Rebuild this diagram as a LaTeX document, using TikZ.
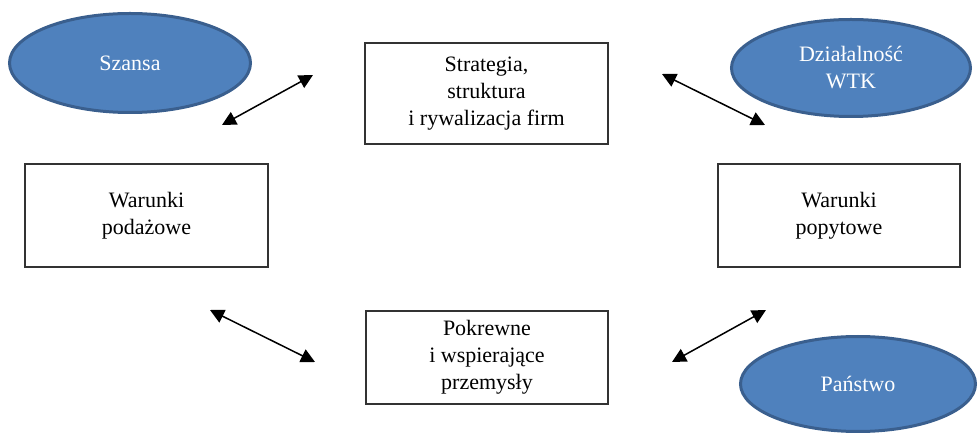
\documentclass[tikz,border=0pt]{standalone}
\usepackage{fontspec}
\setmainfont{Liberation Serif}
\usepackage{tikz}
\usetikzlibrary{arrows.meta, shapes.geometric}
\definecolor{ovalfill}{HTML}{4F81BD}
\definecolor{ovaldraw}{HTML}{3A5F8E}
\definecolor{boxdraw}{HTML}{333333}
\tikzset{
    >={Triangle[length=14pt, width=14pt]},
    txt/.style={font=\fontsize{22}{27}\selectfont, align=center},
    box/.style={txt, draw=boxdraw, line width=2pt, inner sep=0pt},
    oval/.style={txt, ellipse, fill=ovalfill, draw=ovaldraw, line width=3pt, text=white, inner sep=0pt},
    link/.style={<->, line width=1.5pt, black}
}

\begin{document}
\begin{tikzpicture}[x=1pt, y=1pt]

    \useasboundingbox (0,0) rectangle (978,434);

    % czynniki
    \node[box, minimum width=243pt, minimum height=101pt] (strat) at (486.5, 340.5)
        {Strategia,\\ struktura\\ i rywalizacja firm};
    \node[box, minimum width=243pt, minimum height=103pt] (podaz) at (146.5, 218.5)
        {Warunki\\ podażowe};
    \node[box, minimum width=242pt, minimum height=103pt] (popyt) at (839, 218.5)
        {Warunki\\ popytowe};
    \node[box, minimum width=242pt, minimum height=93pt] (pokr) at (487, 76.5)
        {Pokrewne\\ i wspierające\\ przemysły};

    % czynniki zewnętrzne
    \node[oval, minimum width=241pt, minimum height=99pt] (szansa) at (130, 371) {Szansa};
    \node[oval, minimum width=239pt, minimum height=97pt] (wtk) at (851, 366) {Działalność\\ WTK};
    \node[oval, minimum width=235pt, minimum height=95pt] (panstwo) at (858, 50) {Państwo};

    % powiązania
    \coordinate (a1s) at (222, 309);
    \coordinate (a1e) at (313, 359);
    \coordinate (a2s) at (662, 360);
    \coordinate (a2e) at (765, 309);
    \coordinate (a3s) at (210, 124);
    \coordinate (a3e) at (315, 72);
    \coordinate (a4s) at (672, 72);
    \coordinate (a4e) at (766, 124);

    \draw[link] (a1s) -- (a1e);
    \draw[link] (a2s) -- (a2e);
    \draw[link] (a3s) -- (a3e);
    \draw[link] (a4s) -- (a4e);

\end{tikzpicture}
\end{document}
